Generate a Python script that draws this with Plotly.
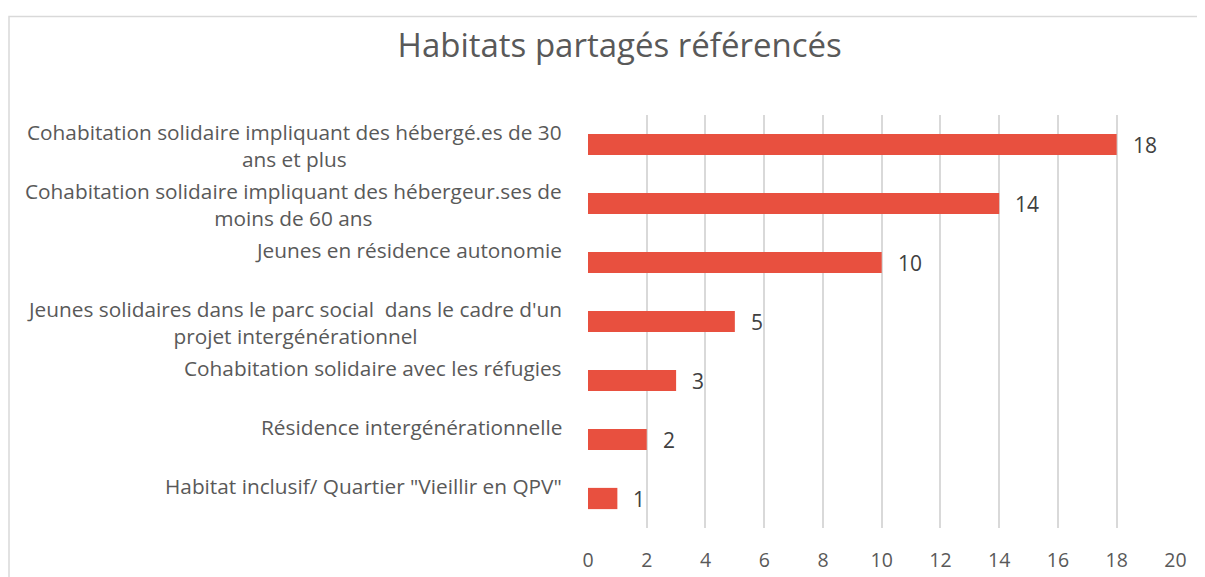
import plotly.graph_objects as go

title = "Habitats partagés référencés"
categories = [
    "Cohabitation solidaire impliquant des hébergé.es de 30<br>ans et plus",
    "Cohabitation solidaire impliquant des hébergeur.ses de<br>moins de 60 ans",
    "Jeunes en résidence autonomie",
    "Jeunes solidaires dans le parc social  dans le cadre d'un<br>projet intergénérationnel",
    "Cohabitation solidaire avec les réfugies",
    "Résidence intergénérationnelle",
    "Habitat inclusif/ Quartier \"Vieillir en QPV\"",
]
values = [18, 14, 10, 5, 3, 2, 1]
x_ticks = [0, 2, 4, 6, 8, 10, 12, 14, 16, 18, 20]

BAR = "#E8503F"
TXT = "#595959"
FONT = "Open Sans"

# page body has an 8px margin, so the figure is sized/offset accordingly
W, H = 1197, 569
L, R, T, B = 580, 29, 107, 49
PW, PH = W - L - R, H - T - B

ids = list(range(len(categories)))

fig = go.Figure(go.Bar(
    x=values, y=ids, orientation="h",
    marker=dict(color=BAR, line=dict(width=0)),
    width=0.36,
    hoverinfo="skip",
))

anns = []
for i, (lab, v) in enumerate(zip(categories, values)):
    single = "<br>" not in lab
    anns.append(dict(
        x=0, y=i, xref="paper", yref="y", text=lab, showarrow=False,
        xanchor="right", yanchor="middle", align="center", xshift=-24,
        yshift=13 if single else -1,
        font=dict(family=FONT, size=20.8, color=TXT),
    ))
    anns.append(dict(
        x=v, y=i, xref="x", yref="y", text=str(v), showarrow=False,
        xanchor="left", yanchor="middle", xshift=14,
        font=dict(family=FONT, size=21, color="#404040"),
    ))

fig.update_layout(
    width=W, height=H,
    margin=dict(l=L, r=R, t=T, b=B, autoexpand=False),
    paper_bgcolor="white", plot_bgcolor="white",
    showlegend=False,
    title=dict(text=title, x=0.511, xref="container", xanchor="center",
               y=1 - 37 / H, yref="container", yanchor="middle",
               font=dict(family=FONT, size=33, color=TXT)),
    xaxis=dict(range=[0, 20.02], tickvals=x_ticks, showgrid=True,
               gridcolor="#d9d9d9", gridwidth=1.5, zeroline=False,
               showline=False, ticks="", ticklabelstandoff=18,
               automargin=False,
               tickfont=dict(family=FONT, size=19.5, color=TXT), fixedrange=True),
    yaxis=dict(range=[len(categories) - 0.5, -0.5], showticklabels=False,
               showgrid=False, zeroline=False, showline=False, ticks="",
               automargin=False, fixedrange=True),
    annotations=anns,
    shapes=[dict(type="rect", xref="paper", yref="paper",
                 x0=(1 - L) / PW, x1=(W + 20 - L) / PW,
                 y0=-(B + 20) / PH, y1=1 + (T - 8.5) / PH,
                 line=dict(color="#d9d9d9", width=1.5), layer="below")],
)

fig.write_html("out.html")
